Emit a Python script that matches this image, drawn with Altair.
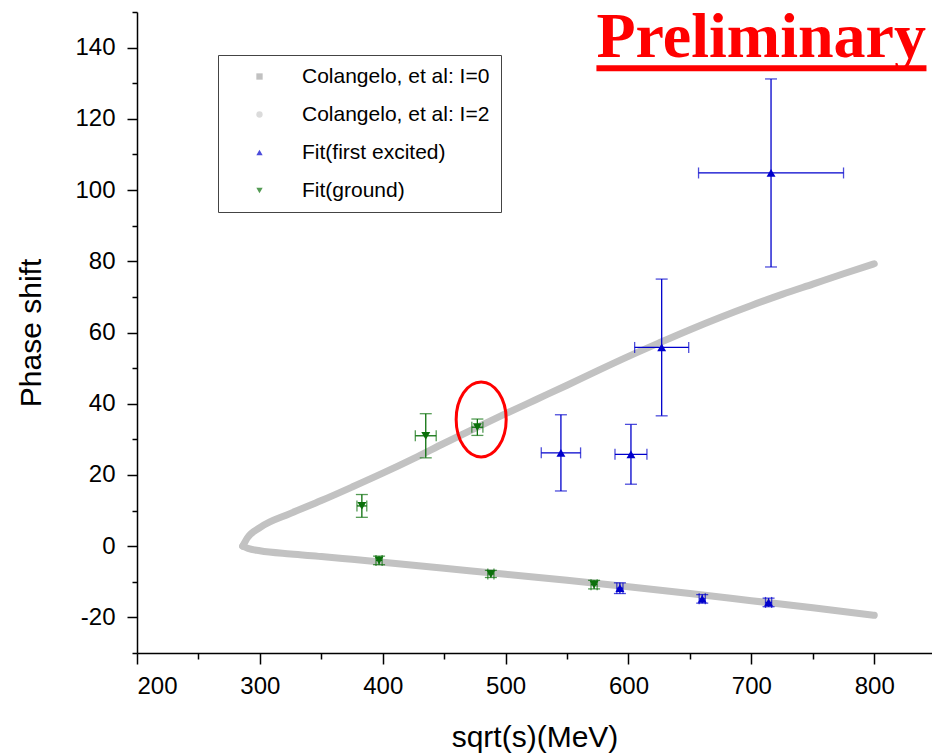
import altair as alt
import pandas as pd

# ---- Colangelo et al. curves ----
i0_x = [286, 290, 300, 325, 350, 375, 400, 425, 450, 475, 500, 525, 550, 575, 600, 625, 650, 675, 700, 725, 750, 775, 800]
i0_y = [0, 2.4, 5.2, 9.2, 12.8, 16.6, 20.5, 24.6, 28.9, 33.1, 37.2, 41.2, 45.2, 49.3, 53.3, 57.1, 60.8, 64.3, 67.6, 70.7, 73.6, 76.5, 79.3]
i2_x = [286, 290, 300, 325, 350, 375, 400, 450, 500, 550, 600, 650, 700, 750, 800]
i2_y = [0, -0.6, -1.3, -2.2, -2.9, -3.7, -4.5, -6.2, -7.9, -9.6, -11.4, -13.3, -15.3, -17.3, -19.4]

# ---- Fit(ground) ----
ground_x = [383, 435, 477, 397, 488, 572]
ground_y = [11.3, 31.0, 33.4, -4.0, -7.8, -10.8]
ground_xerr = [4, 8.5, 4.5, 2.5, 2.5, 2.5]
ground_yerr = [3.2, 6.2, 2.3, 1.2, 1.0, 1.2]

# ---- Fit(first excited) ----
exc_x = [545, 602, 627, 716, 593, 660, 714]
exc_y = [26.2, 25.8, 55.8, 104.8, -11.8, -14.8, -15.8]
exc_xerr = [16, 13, 22, 59, 2.5, 2.5, 2.5]
exc_yerr = [10.7, 8.4, 19.2, 26.4, 1.5, 1.2, 1.2]

series_names = ["Colangelo, et al: I=0", "Colangelo, et al: I=2", "Fit(first excited)", "Fit(ground)"]
series_colors = ["#a6a6a6", "#cccccc", "#0000cc", "#0b700b"]
series_shapes = ["square", "circle", "triangle-up", "triangle-down"]
color_of = dict(zip(series_names, series_colors))

# annotations
prelim_x = [708]
prelim_y = [137.3]
underline_x = [573.9]
underline_x2 = [842.5]
underline_y = [134.2]
circle_x = [480.1]
circle_y = [35.6]

curves = pd.DataFrame({
    "x": i0_x + i2_x,
    "y": i0_y + i2_y,
    "branch": ["I=0"] * len(i0_x) + ["I=2"] * len(i2_x),
})

pts = pd.DataFrame({
    "series": ["Fit(ground)"] * len(ground_x) + ["Fit(first excited)"] * len(exc_x),
    "x": ground_x + exc_x,
    "y": ground_y + exc_y,
    "xerr": ground_xerr + exc_xerr,
    "yerr": ground_yerr + exc_yerr,
})
pts["xlo"] = pts["x"] - pts["xerr"]
pts["xhi"] = pts["x"] + pts["xerr"]
pts["ylo"] = pts["y"] - pts["yerr"]
pts["yhi"] = pts["y"] + pts["yerr"]
pts["col"] = pts["series"].map(color_of)

xs = alt.Scale(domain=[200, 847], nice=False, zero=False)
ys = alt.Scale(domain=[-30, 150], nice=False, zero=False)
cscale = alt.Scale(domain=series_names, range=series_colors)
sscale = alt.Scale(domain=series_names, range=series_shapes)

x_axis = alt.Axis(
    values=list(range(200, 851, 50)),
    labelExpr="datum.value % 100 === 0 ? toString(datum.value) : ''",
    tickSize={"condition": {"test": "datum.value % 100 === 0", "value": 11}, "value": 6},
    labelPadding=10, titlePadding=24,
)
y_axis = alt.Axis(
    values=list(range(-30, 151, 10)),
    labelExpr="datum.value % 20 === 0 ? toString(datum.value) : ''",
    tickSize={"condition": {"test": "datum.value % 20 === 0", "value": 10}, "value": 5},
    labelPadding=12, titlePadding=28,
)


def X(f):
    return alt.X(f, type="quantitative", scale=xs, axis=x_axis, title="sqrt(s)(MeV)")


def Y(f):
    return alt.Y(f, type="quantitative", scale=ys, axis=y_axis, title="Phase shift")


C = alt.Color("col:N", scale=None)

leg = alt.Legend(
    title=None, orient="none", legendX=81, legendY=43,
    strokeColor="#444444", fillColor="white", padding=11, rowPadding=16,
    labelFontSize=21, labelFont="Liberation Sans", labelColor="black", labelLimit=400,
    symbolSize=40, symbolOffset=20, labelOffset=32, symbolStrokeWidth=0,
)

curve = alt.Chart(curves).mark_line(color="#c2c2c2", strokeWidth=7, strokeCap="round",
                                    interpolate="monotone").encode(
    x=X("x"), y=Y("y"), detail="branch:N"
)

base = alt.Chart(pts)
vbars = base.mark_rule(strokeWidth=1.3).encode(x=X("x"), y=Y("ylo"), y2="yhi:Q", color=C)
hbars = base.mark_rule(strokeWidth=1.3).encode(x=X("xlo"), x2="xhi:Q", y=Y("y"), color=C)
vcap_lo = base.mark_tick(orient="horizontal", size=12, thickness=1.3).encode(x=X("x"), y=Y("ylo"), color=C)
vcap_hi = base.mark_tick(orient="horizontal", size=12, thickness=1.3).encode(x=X("x"), y=Y("yhi"), color=C)
hcap_lo = base.mark_tick(orient="vertical", size=11, thickness=1.3).encode(x=X("xlo"), y=Y("y"), color=C)
hcap_hi = base.mark_tick(orient="vertical", size=11, thickness=1.3).encode(x=X("xhi"), y=Y("y"), color=C)
points = base.mark_point(filled=True, size=80, opacity=1).encode(
    x=X("x"), y=Y("y"),
    color=alt.Color("series:N", scale=cscale, legend=leg),
    shape=alt.Shape("series:N", scale=sscale, legend=leg),
)

ellipse_path = "M -0.667 0 A 0.667 1 0 1 1 0.667 0 A 0.667 1 0 1 1 -0.667 0 Z"
ellipse = alt.Chart(pd.DataFrame({"x": circle_x, "y": circle_y})).mark_point(
    shape=ellipse_path, size=5625, filled=False, color="#ff0000", strokeWidth=3, opacity=1
).encode(x=X("x"), y=Y("y"))

prelim = alt.Chart(pd.DataFrame({"x": prelim_x, "y": prelim_y, "t": ["Preliminary"]})).mark_text(
    font="Liberation Serif", fontSize=64, fontWeight="bold", color="#ff0000",
    align="center", baseline="alphabetic"
).encode(x=X("x"), y=Y("y"), text="t:N")

underline = alt.Chart(pd.DataFrame({"x": underline_x, "x2": underline_x2, "y": underline_y})).mark_rule(
    color="#ff0000", strokeWidth=6
).encode(x=X("x"), x2="x2:Q", y=Y("y"))

chart = alt.layer(
    curve, vbars, hbars, vcap_lo, vcap_hi, hcap_lo, hcap_hi, points, ellipse, prelim, underline
).properties(
    width=795, height=641,
    padding={"left": 137, "top": 12, "right": 0, "bottom": 100},
    autosize=alt.AutoSizeParams(type="none"),
    background="white",
).configure_view(stroke=None).configure_axis(
    domainColor="black", domainWidth=1.5, tickColor="black", tickWidth=1.5,
    labelFont="Liberation Sans", labelFontSize=24, labelColor="black",
    titleFont="Liberation Sans", titleFontSize=30, titleFontWeight="normal", titleColor="black",
    grid=False,
)

chart.save("out.html", embed_options={"renderer": "svg", "actions": False})
